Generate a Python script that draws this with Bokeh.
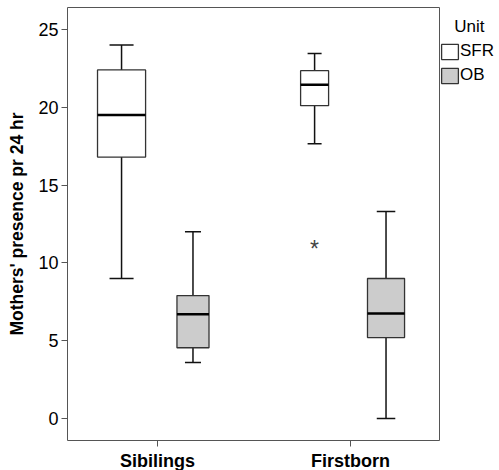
from bokeh.plotting import figure
from bokeh.models import Range1d, FixedTicker, Legend, LegendItem
from bokeh.core.properties import value
from bokeh.embed import file_html
from bokeh.resources import INLINE

# ---- data ----
groups = ["Sibilings", "Firstborn"]
units = ["SFR", "OB"]
# five-number summaries per (group, unit)
sfr_low = [9.0, 17.65]
sfr_q1 = [16.8, 20.1]
sfr_med = [19.5, 21.45]
sfr_q3 = [22.4, 22.35]
sfr_high = [24.0, 23.45]

ob_low = [3.6, 0.0]
ob_q1 = [4.55, 5.2]
ob_med = [6.7, 6.75]
ob_q3 = [7.9, 9.0]
ob_high = [12.0, 13.3]

outlier_group = ["Firstborn"]
outlier_unit = ["SFR"]
outlier_value = [11.15]

y_ticks = [0, 5, 10, 15, 20, 25]

# ---- styling ----
FONT = "Liberation Sans"
dodge = {"SFR": -0.186, "OB": 0.184}
box_w = {"SFR": [0.249, 0.145], "OB": [0.166, 0.192]}
fills = {"SFR": "#ffffff", "OB": "#cccccc"}
gpos = {g: i + 1 for i, g in enumerate(groups)}

p = figure(frame_width=372, frame_height=433, output_backend="svg",
           toolbar_location=None, x_range=Range1d(0.534, 2.461),
           y_range=Range1d(-1.41, 26.41),
           min_border_left=67, min_border_right=0, min_border_top=7,
           min_border_bottom=30)
p.background_fill_color = "white"
p.border_fill_color = "white"
p.grid.visible = False
p.outline_line_color = "#555555"
p.outline_line_width = 1

series = {
    "SFR": (sfr_low, sfr_q1, sfr_med, sfr_q3, sfr_high),
    "OB": (ob_low, ob_q1, ob_med, ob_q3, ob_high),
}
box_renderers = {}
for u in units:
    low, q1, med, q3, high = series[u]
    xs = [gpos[g] + dodge[u] for g in groups]
    w = box_w[u]
    p.segment(x0=xs, y0=q3, x1=xs, y1=high, line_color="#111111", line_width=1.5)
    p.segment(x0=xs, y0=low, x1=xs, y1=q1, line_color="#111111", line_width=1.5)
    p.segment(x0=[x - ww / 4 for x, ww in zip(xs, w)], y0=high,
              x1=[x + ww / 4 for x, ww in zip(xs, w)], y1=high,
              line_color="#111111", line_width=1.5)
    p.segment(x0=[x - ww / 4 for x, ww in zip(xs, w)], y0=low,
              x1=[x + ww / 4 for x, ww in zip(xs, w)], y1=low,
              line_color="#111111", line_width=1.5)
    box_renderers[u] = p.vbar(x=xs, width=w, bottom=q1, top=q3, fill_color=fills[u],
                              line_color="#333333", line_width=1.3)
    p.segment(x0=[x - ww / 2 for x, ww in zip(xs, w)], y0=med,
              x1=[x + ww / 2 for x, ww in zip(xs, w)], y1=med,
              line_color="#000000", line_width=2.5)

# outliers
ox = [gpos[g] + dodge[u] for g, u in zip(outlier_group, outlier_unit)]
p.text(x=ox, y=outlier_value, text=["*"] * len(ox), text_align="center",
       text_baseline="middle", text_font=value(FONT), text_font_size="23px",
       text_color="#444444", y_offset=4)

# legend on the right
legend = Legend(items=[LegendItem(label=u, renderers=[box_renderers[u]]) for u in units],
                title="\u2002\u2009\u2009Unit", title_text_font=FONT,
                title_text_font_size="17px", title_text_font_style="normal",
                title_text_color="black", title_standoff=4,
                location=(0, 355), orientation="vertical",
                glyph_width=21, glyph_height=19, label_height=19,
                spacing=4, padding=0, margin=0, label_standoff=0,
                border_line_alpha=0, background_fill_alpha=0,
                label_text_font=FONT, label_text_font_size="17px",
                label_text_color="black")
p.add_layout(legend, "right")

# axes
p.xaxis.ticker = FixedTicker(ticks=[gpos[g] for g in groups])
p.xaxis.major_label_overrides = {gpos[g]: g for g in groups}
p.yaxis.ticker = FixedTicker(ticks=y_ticks)
for ax in (p.xaxis, p.yaxis):
    ax.axis_line_color = None
    ax.major_tick_in = 0
    ax.major_tick_out = 6
    ax.major_tick_line_color = "#555555"
    ax.minor_tick_line_color = None
    ax.major_label_text_font = FONT
    ax.major_label_text_color = "black"
p.yaxis.major_label_text_font_size = "18px"
p.yaxis.major_label_standoff = 3
p.xaxis.major_label_text_font_size = "18px"
p.xaxis.major_label_text_font_style = "bold"
p.xaxis.major_label_standoff = 4
p.yaxis.axis_label = "Mothers' presence pr 24 hr"
p.yaxis.axis_label_text_font = FONT
p.yaxis.axis_label_text_font_size = "17.5px"
p.yaxis.axis_label_text_font_style = "bold"
p.yaxis.axis_label_text_color = "black"
p.yaxis.axis_label_standoff = 8

open("out.html", "w").write(file_html(p, INLINE))
